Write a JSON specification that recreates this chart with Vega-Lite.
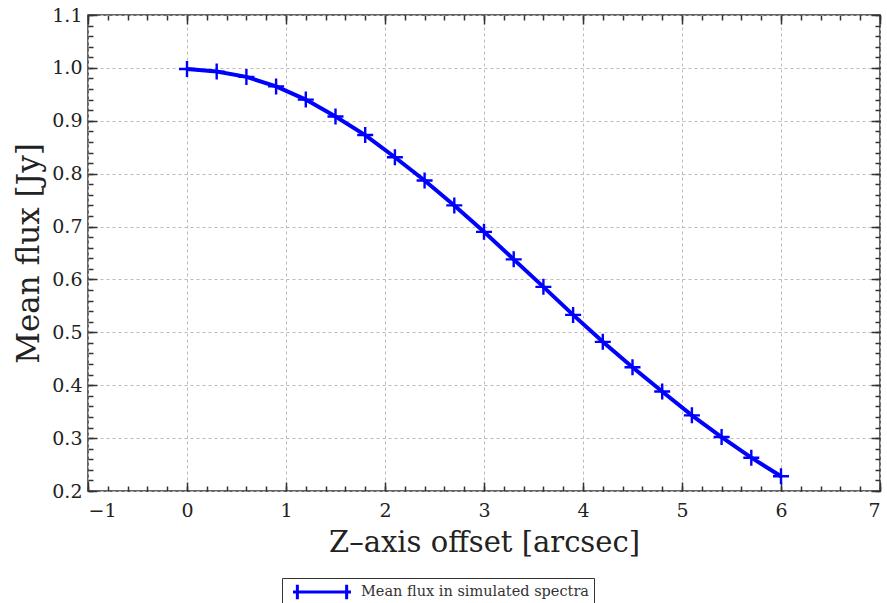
{
  "$schema": "https://vega.github.io/schema/vega-lite/v6.json",
  "width": 792,
  "height": 476,
  "autosize": {"type": "none"},
  "padding": {"left": 88, "top": 15, "right": 7, "bottom": 112},
  "background": "white",
  "config": {
    "view": {"stroke": "#333333", "strokeWidth": 1.5},
    "font": "DejaVu Serif",
    "axis": {
      "labelFont": "DejaVu Serif",
      "titleFont": "DejaVu Serif",
      "labelColor": "#222222",
      "titleColor": "#222222",
      "titleFontWeight": "normal",
      "domain": false,
      "tickColor": "#333333",
      "tickWidth": 1.5,
      "gridColor": "#bbbbbb",
      "gridDash": [3, 3],
      "gridWidth": 1
    }
  },
  "data": {
    "values": [
      {"x": 0.0, "y": 0.998},
      {"x": 0.3, "y": 0.993},
      {"x": 0.6, "y": 0.983},
      {"x": 0.9, "y": 0.965},
      {"x": 1.2, "y": 0.940},
      {"x": 1.5, "y": 0.908},
      {"x": 1.8, "y": 0.873},
      {"x": 2.1, "y": 0.831},
      {"x": 2.4, "y": 0.787},
      {"x": 2.7, "y": 0.740},
      {"x": 3.0, "y": 0.690},
      {"x": 3.3, "y": 0.638},
      {"x": 3.6, "y": 0.586},
      {"x": 3.9, "y": 0.533},
      {"x": 4.2, "y": 0.482},
      {"x": 4.5, "y": 0.434},
      {"x": 4.8, "y": 0.388},
      {"x": 5.1, "y": 0.343},
      {"x": 5.4, "y": 0.302},
      {"x": 5.7, "y": 0.263},
      {"x": 6.0, "y": 0.228}
    ]
  },
  "resolve": {"axis": {"x": "independent", "y": "independent"}},
  "layer": [
    {
      "mark": {"type": "line", "strokeWidth": 4},
      "encoding": {
        "x": {
          "field": "x", "type": "quantitative",
          "scale": {"domain": [-1, 7], "nice": false, "zero": false},
          "axis": {
            "orient": "bottom", "tickCount": 8, "tickSize": -9, "labelPadding": 19,
            "labelFontSize": 19, "grid": true, "title": "Z\u2013axis offset [arcsec]",
            "titleFontSize": 29, "titlePadding": 8
          }
        },
        "y": {
          "field": "y", "type": "quantitative",
          "scale": {"domain": [0.2, 1.1], "nice": false, "zero": false},
          "axis": {
            "orient": "left", "tickCount": 9, "tickSize": -9, "labelPadding": 15,
            "labelFontSize": 19, "grid": true, "format": ".1f", "title": "Mean flux [Jy]",
            "titleFontSize": 31, "titlePadding": 6
          }
        },
        "color": {
          "datum": "Mean flux in simulated spectra",
          "type": "nominal",
          "scale": {"range": ["#0000ff"]},
          "legend": {
            "title": null,
            "orient": "none",
            "legendX": 194,
            "legendY": 563,
            "strokeColor": "#333333",
            "fillColor": "white",
            "padding": 5,
            "symbolType": "M-4,0H4M-3.4,-1V1M3.4,-1V1",
            "symbolSize": 210,
            "symbolOffset": 26,
            "symbolStrokeWidth": 3,
            "symbolFillColor": "transparent",
            "labelFont": "DejaVu Serif",
            "labelFontSize": 14.5,
            "labelColor": "#333333",
            "labelOffset": 30,
            "labelLimit": 400
          }
        }
      }
    },
    {
      "mark": {"type": "point", "shape": "M-1,0H1M0,-1V1", "size": 256, "filled": false, "strokeWidth": 2.4, "color": "#0000ff", "opacity": 1},
      "encoding": {
        "x": {
          "field": "x", "type": "quantitative",
          "scale": {"domain": [-1, 7], "nice": false, "zero": false},
          "axis": {"orient": "bottom", "tickCount": 40, "tickSize": -5, "labels": false, "grid": false, "title": null}
        },
        "y": {
          "field": "y", "type": "quantitative",
          "scale": {"domain": [0.2, 1.1], "nice": false, "zero": false},
          "axis": {"orient": "left", "tickCount": 45, "tickSize": -5, "labels": false, "grid": false, "title": null}
        }
      }
    },
    {
      "mark": {"type": "line", "opacity": 0},
      "encoding": {
        "x": {
          "field": "x", "type": "quantitative",
          "scale": {"domain": [-1, 7], "nice": false, "zero": false},
          "axis": {"orient": "top", "tickCount": 8, "tickSize": -9, "labels": false, "grid": false, "title": null}
        },
        "y": {
          "field": "y", "type": "quantitative",
          "scale": {"domain": [0.2, 1.1], "nice": false, "zero": false},
          "axis": {"orient": "right", "tickCount": 9, "tickSize": -9, "labels": false, "grid": false, "title": null}
        }
      }
    },
    {
      "mark": {"type": "line", "opacity": 0},
      "encoding": {
        "x": {
          "field": "x", "type": "quantitative",
          "scale": {"domain": [-1, 7], "nice": false, "zero": false},
          "axis": {"orient": "top", "tickCount": 40, "tickSize": -5, "labels": false, "grid": false, "title": null}
        },
        "y": {
          "field": "y", "type": "quantitative",
          "scale": {"domain": [0.2, 1.1], "nice": false, "zero": false},
          "axis": {"orient": "right", "tickCount": 45, "tickSize": -5, "labels": false, "grid": false, "title": null}
        }
      }
    }
  ]
}
